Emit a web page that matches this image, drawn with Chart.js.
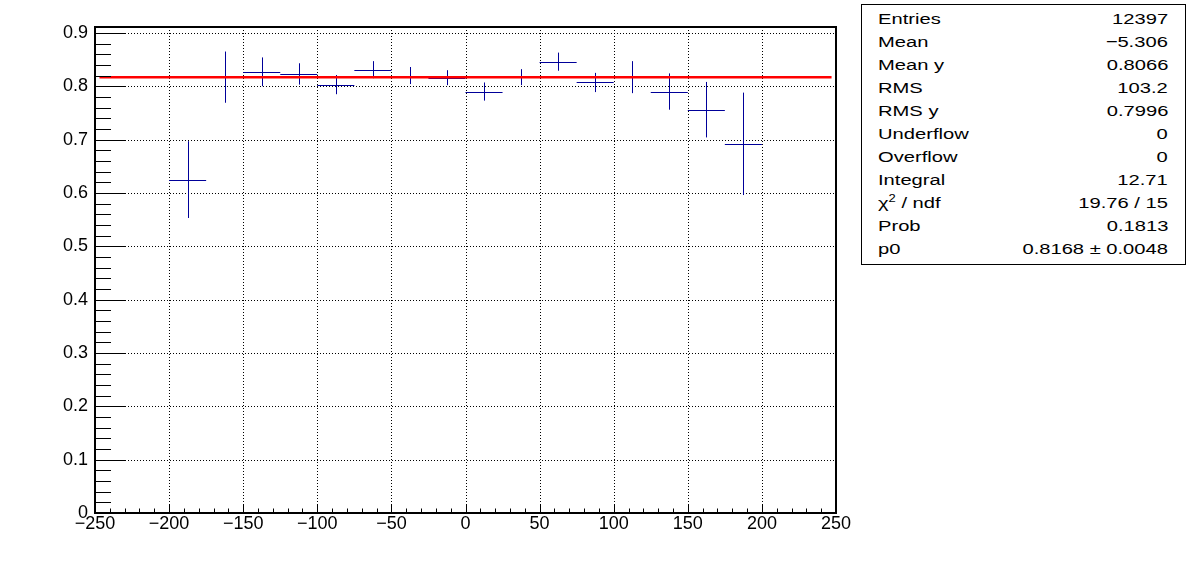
<!DOCTYPE html>
<html>
<head>
<meta charset="utf-8">
<title>p0 fit</title>
<script src="https://cdn.jsdelivr.net/npm/chart.js@4/dist/chart.umd.min.js"></script>
<style>
  body { margin: 0; background: #fff; }
  #wrap { position: relative; width: 1196px; height: 572px; }
  #stats {
    position: absolute; left: 861px; top: 4px; width: 325px; height: 261px;
    box-sizing: border-box; border: 1px solid #000; background: #fff;
    padding: 2px 17px 0 16px;
    font-family: "Liberation Sans", Arial, sans-serif; font-size: 15.5px; color: #000;
  }
  #stats .row { display: flex; justify-content: space-between; height: 23.05px; line-height: 23.05px; }
  #stats .row span { display: inline-block; transform: scaleX(1.3); white-space: nowrap; }
  #stats .row span.n { transform-origin: left center; }
  #stats .row span.v { transform-origin: right center; }
  #stats sup { font-size: 10px; line-height: 0; vertical-align: 6px; }
</style>
</head>
<body>
<div id="wrap">
  <canvas id="myChart" width="1196" height="572"></canvas>
  <div id="stats"></div>
</div>

<script type="text/javascript">
// bin centres and contents (bin width 25)
const binCenters = [-187.5, -162.5, -137.5, -112.5, -87.5, -62.5, -37.5, -12.5,
                    12.5, 37.5, 62.5, 87.5, 112.5, 137.5, 162.5, 187.5];
const binValues  = [0.625, 0.817, 0.827, 0.823, 0.803, 0.831, 0.820, 0.816,
                    0.790, 0.817, 0.846, 0.807, 0.817, 0.790, 0.756, 0.692];
const binErrors  = [0.072, 0.048, 0.027, 0.020, 0.018, 0.016, 0.016, 0.014,
                    0.017, 0.015, 0.017, 0.018, 0.030, 0.034, 0.052, 0.096];
const binHalfWidth = 12.5;

// pol0 fit
const fitValue = 0.8168;
const fitRange = [-247, 247];

// axis ranges / ticks
const xRange = [-250, 250];
const yRange = [0, 0.911];
const xStep = 50, xMinorStep = 10;
const yStep = 0.1, yMinorStep = 0.02;

// stats box
const statNames  = ['Entries', 'Mean', 'Mean y', 'RMS', 'RMS y', 'Underflow', 'Overflow',
                    'Integral', '\u03c7<sup>2</sup> / ndf', 'Prob', 'p0'];
const statValues = ['12397', '\u22125.306', '0.8066', '103.2', '0.7996', '0', '0',
                    '12.71', '19.76 / 15', '0.1813', '0.8168 \u00b1 0.0048'];

const statsDiv = document.getElementById('stats');
statNames.forEach((n, i) => {
  const row = document.createElement('div');
  row.className = 'row';
  row.innerHTML = '<span class="n">' + n + '</span><span class="v">' + statValues[i] + '</span>';
  statsDiv.appendChild(row);
});

const MARK_COLOR = '#000099';

// grid, frame, ticks and error bars, ROOT style
const rootFramePlugin = {
  id: 'rootFrame',
  beforeDatasetsDraw(chart) {
    const {ctx, chartArea: a, scales: {x, y}} = chart;
    ctx.save();
    // dotted grid
    ctx.strokeStyle = '#000';
    ctx.lineWidth = 1;
    ctx.setLineDash([1, 2]);
    ctx.beginPath();
    for (let v = xRange[0] + xStep; v < xRange[1]; v += xStep) {
      const px = Math.round(x.getPixelForValue(v)) + 0.5;
      ctx.moveTo(px, a.top); ctx.lineTo(px, a.bottom);
    }
    for (let k = 1; k * yStep < yRange[1]; k++) {
      const py = Math.round(y.getPixelForValue(k * yStep)) + 0.5;
      ctx.moveTo(a.left, py); ctx.lineTo(a.right, py);
    }
    ctx.stroke();
    ctx.setLineDash([]);

    // error bars
    ctx.strokeStyle = MARK_COLOR;
    ctx.lineWidth = 1;
    ctx.beginPath();
    binCenters.forEach((c, i) => {
      const px = Math.round(x.getPixelForValue(c)) + 0.5;
      const py = Math.round(y.getPixelForValue(binValues[i])) + 0.5;
      ctx.moveTo(x.getPixelForValue(c - binHalfWidth), py);
      ctx.lineTo(x.getPixelForValue(c + binHalfWidth), py);
      ctx.moveTo(px, y.getPixelForValue(binValues[i] + binErrors[i]));
      ctx.lineTo(px, y.getPixelForValue(binValues[i] - binErrors[i]));
    });
    ctx.stroke();
    ctx.restore();
  },
  afterDatasetsDraw(chart) {
    const {ctx, chartArea: a, scales: {x, y}} = chart;
    ctx.save();
    ctx.strokeStyle = '#000';
    ctx.lineWidth = 1;
    ctx.beginPath();
    // x ticks (inside, pointing up)
    for (let k = 0; xRange[0] + k * xMinorStep <= xRange[1]; k++) {
      const v = xRange[0] + k * xMinorStep;
      const px = Math.round(x.getPixelForValue(v)) + 0.5;
      const len = (v % xStep === 0) ? 9 : 4.5;
      ctx.moveTo(px, a.bottom); ctx.lineTo(px, a.bottom - len);
    }
    // y ticks (inside, pointing right)
    for (let k = 0; k * yMinorStep <= yRange[1]; k++) {
      const py = Math.round(y.getPixelForValue(k * yMinorStep)) + 0.5;
      const len = (k % 5 === 0) ? 31 : 16;
      ctx.moveTo(a.left, py); ctx.lineTo(a.left + len, py);
    }
    ctx.stroke();
    // frame
    ctx.lineWidth = 2;
    ctx.strokeRect(a.left, a.top, a.right - a.left, a.bottom - a.top);
    ctx.restore();
  }
};

Chart.defaults.font.family = '"Liberation Sans", Arial, sans-serif';
Chart.defaults.color = '#000';
const tickFont = { family: '"Liberation Sans", Arial, sans-serif', size: 18 };

const data = {
  datasets: [
    {
      type: 'line',
      label: 'fit',
      data: fitRange.map(v => ({x: v, y: fitValue})),
      borderColor: '#ff0000',
      borderWidth: 2.5,
      pointRadius: 0,
      fill: false,
    },
    {
      type: 'scatter',
      label: 'hist',
      data: binCenters.map((c, i) => ({x: c, y: binValues[i]})),
      pointRadius: 0,
      borderColor: MARK_COLOR,
    },
  ],
};

const config = {
  type: 'scatter',
  data: data,
  options: {
    responsive: false,
    animation: false,
    layout: { padding: { left: 0, top: 27, right: 360, bottom: 0 } },
    plugins: {
      legend: { display: false },
      tooltip: { enabled: false },
    },
    scales: {
      x: {
        type: 'linear',
        min: xRange[0], max: xRange[1],
        grid: { display: false, drawTicks: false },
        border: { display: false },
        ticks: {
          font: tickFont, color: '#000',
          stepSize: xStep, padding: 0, maxRotation: 0, autoSkip: false,
          callback: v => String(v).replace('-', '\u2212'),
        },
        afterFit(scale) { scale.height = 59; },
      },
      y: {
        type: 'linear',
        min: yRange[0], max: yRange[1],
        grid: { display: false, drawTicks: false },
        border: { display: false },
        ticks: {
          font: tickFont, color: '#000',
          stepSize: yStep, padding: 7, includeBounds: false,
          callback: v => (Math.abs(v) < 1e-9 ? '0' : v.toFixed(1)),
        },
        afterFit(scale) { scale.width = 95; },
      },
    },
  },
  plugins: [rootFramePlugin],
};

const myChart = new Chart(document.getElementById('myChart'), config);
</script>
</body>
</html>
